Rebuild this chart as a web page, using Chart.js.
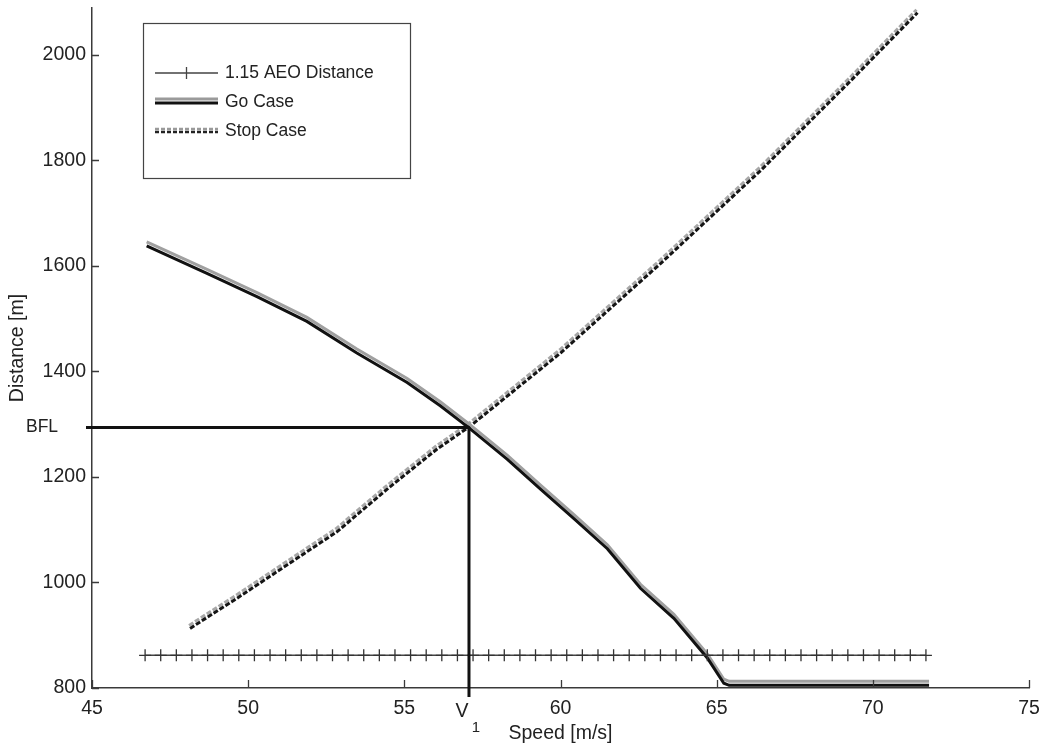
<!DOCTYPE html>
<html>
<head>
<meta charset="utf-8">
<script src="https://cdn.jsdelivr.net/npm/chart.js@4/dist/chart.umd.min.js"></script>
<style>
  html, body { margin: 0; padding: 0; background: #fff; }
  #wrap { width: 1044px; height: 745px; position: relative; }
</style>
</head>
<body>
<div id="wrap"><canvas id="chart" width="1044" height="745"></canvas></div>
<script>
// axis ticks
const speedTicks = [45, 50, 55, 60, 65, 70, 75];
const distanceTicks = [800, 1000, 1200, 1400, 1600, 1800, 2000];

// 1.15 AEO distance (constant, markers every 0.5 m/s)
const aeoSpeed = [46.7, 47.2, 47.7, 48.2, 48.7, 49.2, 49.7, 50.2, 50.7, 51.2, 51.7, 52.2, 52.7,
  53.2, 53.7, 54.2, 54.7, 55.2, 55.7, 56.2, 56.7, 57.2, 57.7, 58.2, 58.7, 59.2, 59.7, 60.2,
  60.7, 61.2, 61.7, 62.2, 62.7, 63.2, 63.7, 64.2, 64.7, 65.2, 65.7, 66.2, 66.7, 67.2, 67.7,
  68.2, 68.7, 69.2, 69.7, 70.2, 70.7, 71.2, 71.7];
const aeoDistance = 862;

// go case
const goSpeed = [46.75, 48.68, 50.28, 51.88, 53.48, 55.09, 56.15, 57.05, 58.29, 59.36, 60.43,
  61.5, 62.56, 63.63, 64.7, 65.23, 65.4, 71.8];
const goDistance = [1638, 1586, 1542, 1495, 1435, 1379, 1335, 1294, 1234, 1177, 1121,
  1064, 989, 932, 857, 809, 805, 805];

// stop case
const stopSpeed = [48.14, 49.64, 51.24, 52.84, 54.45, 56.05, 57.12, 60.0, 63.21, 66.41, 69.29, 71.43];
const stopDistance = [913, 970, 1033, 1096, 1177, 1253, 1297, 1435, 1605, 1781, 1951, 2080];

// balanced field length / decision speed
const bfl = 1294;
const v1 = 57.07;

const textColor = '#222';
const axisColor = '#3a3a3a';
Chart.defaults.font.family = "'Liberation Sans', Arial, sans-serif";
Chart.defaults.color = textColor;

function pts(xs, ys) {
  return xs.map((x, i) => ({ x: x, y: Array.isArray(ys) ? ys[i] : ys }));
}

// gray offset copy under a line (the doubled look of the scanned curves)
const offsetShadow = {
  id: 'offsetShadow',
  beforeDatasetDraw(chart, args) {
    const s = chart.data.datasets[args.index].shadow;
    if (!s) return;
    const ctx = chart.ctx;
    ctx.save();
    ctx.shadowColor = s.color;
    ctx.shadowOffsetX = s.x;
    ctx.shadowOffsetY = s.y;
    ctx.shadowBlur = 0;
  },
  afterDatasetDraw(chart, args) {
    if (chart.data.datasets[args.index].shadow) chart.ctx.restore();
  }
};

// inner tick marks, BFL / V1 lines, labels and legend box
const decorations = {
  id: 'decorations',
  afterDraw(chart) {
    const ctx = chart.ctx;
    const xs = chart.scales.x, ys = chart.scales.y;
    const a = chart.chartArea;
    ctx.save();

    // inner ticks
    ctx.strokeStyle = axisColor;
    ctx.lineWidth = 1.3;
    ctx.beginPath();
    speedTicks.forEach(v => {
      const px = Math.round(xs.getPixelForValue(v)) + 0.5;
      ctx.moveTo(px, a.bottom);
      ctx.lineTo(px, a.bottom - 8);
    });
    distanceTicks.forEach(v => {
      const py = Math.round(ys.getPixelForValue(v)) + 0.5;
      ctx.moveTo(a.left, py);
      ctx.lineTo(a.left + 7, py);
    });
    ctx.stroke();

    // BFL and V1 lines
    const bx = xs.getPixelForValue(v1);
    const by = ys.getPixelForValue(bfl);
    ctx.strokeStyle = '#111';
    ctx.lineWidth = 3;
    ctx.beginPath();
    ctx.moveTo(a.left - 6, by);
    ctx.lineTo(bx, by);
    ctx.moveTo(bx, by);
    ctx.lineTo(bx, a.bottom + 9);
    ctx.stroke();

    ctx.fillStyle = textColor;
    ctx.textBaseline = 'middle';
    ctx.textAlign = 'center';
    ctx.font = "17.5px 'Liberation Sans', Arial, sans-serif";
    ctx.fillText('BFL', 42, by);
    ctx.font = "19.5px 'Liberation Sans', Arial, sans-serif";
    ctx.fillText('V', bx - 7, a.bottom + 24);
    ctx.font = "15px 'Liberation Sans', Arial, sans-serif";
    ctx.fillText('1', bx + 7, a.bottom + 40);

    // legend
    const lx = a.left + 51, ly = a.top + 15, lw = 267, lh = 155;
    ctx.fillStyle = '#fff';
    ctx.fillRect(lx, ly, lw, lh);
    ctx.strokeStyle = '#444';
    ctx.lineWidth = 1.2;
    ctx.strokeRect(lx + 0.5, ly + 0.5, lw, lh);

    const s0 = lx + 12, s1 = lx + 75, tx = lx + 82;
    const rows = [ly + 50, ly + 79, ly + 108];

    // AEO sample
    ctx.strokeStyle = '#444';
    ctx.lineWidth = 1.3;
    ctx.beginPath();
    ctx.moveTo(s0, rows[0]); ctx.lineTo(s1, rows[0]);
    const mx = (s0 + s1) / 2;
    ctx.moveTo(mx, rows[0] - 6); ctx.lineTo(mx, rows[0] + 6);
    ctx.stroke();

    // Go sample
    ctx.strokeStyle = '#9a9a9a';
    ctx.lineWidth = 3;
    ctx.beginPath(); ctx.moveTo(s0, rows[1] - 3); ctx.lineTo(s1, rows[1] - 3); ctx.stroke();
    ctx.strokeStyle = '#111';
    ctx.beginPath(); ctx.moveTo(s0, rows[1] + 1); ctx.lineTo(s1, rows[1] + 1); ctx.stroke();

    // Stop sample
    ctx.setLineDash([4, 2]);
    ctx.strokeStyle = '#9a9a9a';
    ctx.lineWidth = 2.5;
    ctx.beginPath(); ctx.moveTo(s0, rows[2] - 2); ctx.lineTo(s1, rows[2] - 2); ctx.stroke();
    ctx.strokeStyle = '#222';
    ctx.beginPath(); ctx.moveTo(s0, rows[2] + 1); ctx.lineTo(s1, rows[2] + 1); ctx.stroke();
    ctx.setLineDash([]);

    ctx.fillStyle = textColor;
    ctx.textAlign = 'left';
    ctx.font = "17.5px 'Liberation Sans', Arial, sans-serif";
    ctx.fillText('1.15 AEO Distance', tx, rows[0]);
    ctx.fillText('Go Case', tx, rows[1]);
    ctx.fillText('Stop Case', tx, rows[2]);

    ctx.restore();
  }
};

new Chart(document.getElementById('chart'), {
  type: 'scatter',
  data: {
    datasets: [
      {
        label: '1.15 AEO Distance',
        data: pts(aeoSpeed, aeoDistance),
        showLine: true,
        borderColor: '#444',
        borderWidth: 1.4,
        pointStyle: 'cross',
        pointRadius: 6,
        pointBorderColor: '#333',
        pointBorderWidth: 1.3,
        pointHoverRadius: 6
      },
      {
        label: 'Go Case',
        data: pts(goSpeed, goDistance),
        showLine: true,
        borderColor: '#111',
        borderWidth: 3,
        pointRadius: 0,
        tension: 0,
        shadow: { color: '#a0a0a0', x: 0, y: -4 }
      },
      {
        label: 'Stop Case',
        data: pts(stopSpeed, stopDistance),
        showLine: true,
        borderColor: '#151515',
        borderWidth: 3,
        borderDash: [5, 2],
        pointRadius: 0,
        tension: 0,
        shadow: { color: '#a8a8a8', x: -1, y: -3 }
      }
    ]
  },
  options: {
    responsive: false,
    animation: false,
    layout: { padding: { top: 8, right: 15, left: 0, bottom: 0 } },
    plugins: { legend: { display: false }, tooltip: { enabled: false } },
    scales: {
      x: {
        type: 'linear',
        min: 45,
        max: 75,
        afterBuildTicks: s => { s.ticks = speedTicks.map(v => ({ value: v })); },
        afterFit: s => { s.height = 57; s.paddingLeft = 0; s.paddingRight = 0; },
        grid: { display: false, drawTicks: false },
        border: { display: true, color: axisColor, width: 1.5 },
        ticks: { padding: 9, color: textColor, font: { size: 19.5 }, callback: v => String(v) },
        title: { display: true, text: 'Speed [m/s]', color: textColor, font: { size: 19.5 }, padding: 0 }
      },
      y: {
        type: 'linear',
        min: 800,
        max: 2089,
        afterBuildTicks: s => { s.ticks = distanceTicks.map(v => ({ value: v })); },
        afterFit: s => { s.width = 92; s.paddingTop = 0; s.paddingBottom = 0; },
        grid: { display: false, drawTicks: false },
        border: { display: true, color: axisColor, width: 1.5 },
        ticks: { padding: 6, color: textColor, font: { size: 19.5 }, callback: v => String(v) },
        title: { display: true, text: 'Distance [m]', color: textColor, font: { size: 19.5 }, padding: { top: 6, bottom: 0 } }
      }
    }
  },
  plugins: [offsetShadow, decorations]
});
</script>
</body>
</html>
